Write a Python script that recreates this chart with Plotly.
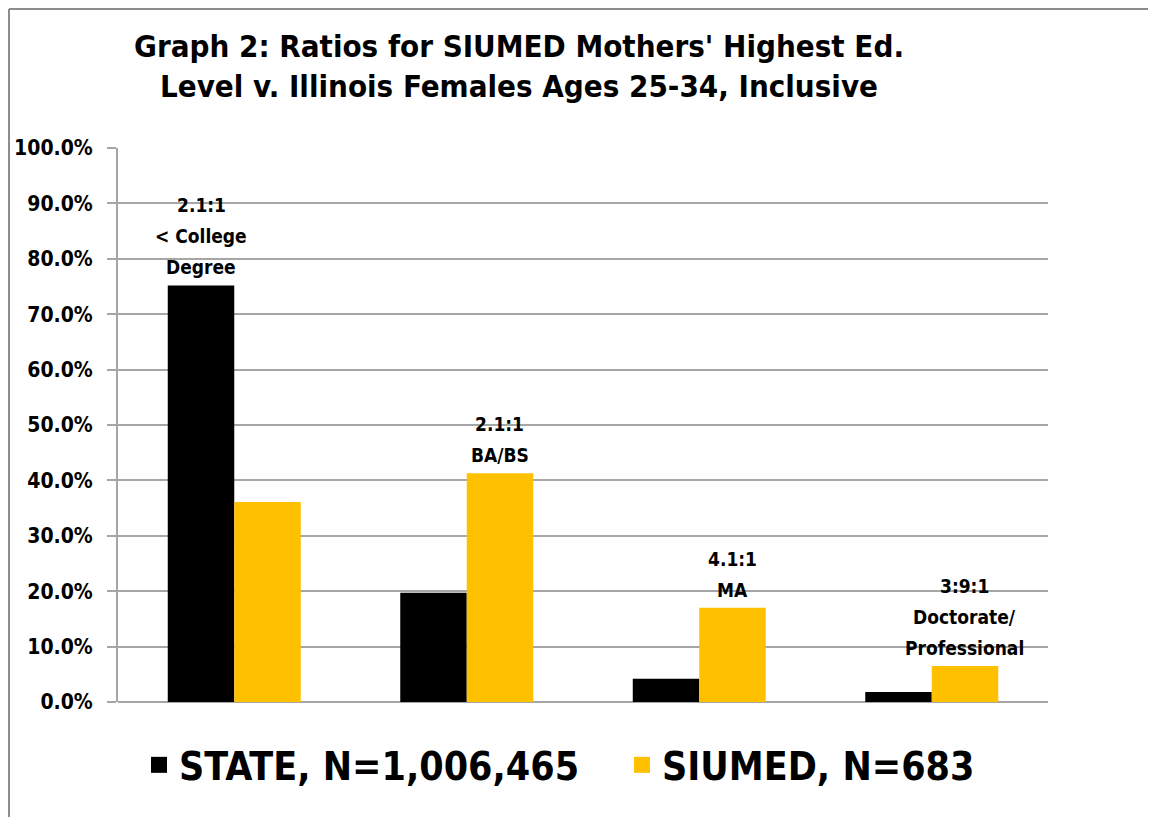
import plotly.graph_objects as go

categories = ["< College Degree", "BA/BS", "MA", "Doctorate/Professional"]
state_values = [0.752, 0.197, 0.042, 0.018]
siumed_values = [0.361, 0.413, 0.170, 0.065]
series_names = ["STATE, N=1,006,465", "SIUMED, N=683"]
series_colors = ["#000000", "#FFC000"]
ratio_labels = [
    ["2.1:1", "&lt; College", "Degree"],
    ["2.1:1", "BA/BS"],
    ["4.1:1", "MA"],
    ["3:9:1", "Doctorate/", "Professional"],
]
y_ticks = [0.0, 0.1, 0.2, 0.3, 0.4, 0.5, 0.6, 0.7, 0.8, 0.9, 1.0]

FONT = "Liberation Sans Narrow, DejaVu Sans Condensed, Arial Narrow, sans-serif"
GRID = "#a6a6a6"
W, H = 1148, 809
L, T, PW, PH = 110, 140, 930, 554
legend_ids = ["legend", "legend2"]
legend_left_px = [139, 622]

fig = go.Figure()
for vals, name, col in zip([state_values, siumed_values], series_names, series_colors):
    fig.add_trace(go.Bar(x=categories, y=vals, name=name, legendgroup=name,
                         showlegend=False, marker=dict(color=col, line=dict(width=0))))
for name, col, lid in zip(series_names, series_colors, legend_ids):
    fig.add_trace(go.Scatter(x=[None], y=[None], mode="markers", name=name, legendgroup=name,
                             legend=lid, marker=dict(symbol="square", size=26, color=col)))

annotations = []
for cat, s, m, lines in zip(categories, state_values, siumed_values, ratio_labels):
    top = max(s, m)
    shift = -33 if s >= m else 33
    for j, line in enumerate(reversed(lines)):
        annotations.append(dict(
            x=cat, y=top, xref="x", yref="y", text="<b>" + line + "</b>",
            showarrow=False, xanchor="center", yanchor="middle",
            xshift=shift, yshift=18 + 31 * j, align="center",
            font=dict(family=FONT, size=19, color="#000000"),
        ))

legend_common = dict(orientation="h", xanchor="left",
                     y=(PH + T - (765 - 8)) / PH, yanchor="middle",
                     font=dict(family=FONT, size=39, color="#000000", weight="bold"),
                     itemwidth=30, bgcolor="rgba(0,0,0,0)")

bx = (1 - L) / PW
fig.update_layout(
    width=W, height=H,
    barmode="group", bargap=0.428, bargroupgap=0,
    plot_bgcolor="white", paper_bgcolor="white",
    margin=dict(l=L, r=W - L - PW, t=T, b=H - T - PH, autoexpand=False),
    title=dict(
        text="<b>Graph 2: Ratios for SIUMED Mothers' Highest Ed.<br>Level v. Illinois Females Ages 25-34, Inclusive</b>",
        x=511 / W, xanchor="center", xref="container",
        y=1 - 49 / H, yanchor="top", yref="container",
        font=dict(family=FONT, size=31, color="#000000"),
    ),
    xaxis=dict(showticklabels=False, showgrid=False, ticks="", automargin=False,
               showline=False, zeroline=False),
    yaxis=dict(range=[0, 1], tickvals=y_ticks, tickformat=".1%", automargin=False,
               showgrid=True, gridcolor=GRID, gridwidth=2,
               showline=True, linecolor=GRID, linewidth=2,
               ticks="outside", ticklen=9, tickcolor=GRID, tickwidth=2,
               ticklabelstandoff=10, zeroline=True, zerolinecolor=GRID, zerolinewidth=2,
               tickfont=dict(family=FONT, size=21, color="#000000", weight="bold")),
    legend=dict(x=(legend_left_px[0] - 8 - L) / PW, **legend_common),
    legend2=dict(x=(legend_left_px[1] - 8 - L) / PW, **legend_common),
    annotations=annotations,
    shapes=[
        dict(type="line", xref="paper", yref="paper", x0=bx, x1=bx,
             y0=(PH + T - 1) / PH, y1=-(H - T - PH + 5) / PH, line=dict(color="#8c8c8c", width=2)),
        dict(type="line", xref="paper", yref="paper", x0=bx, x1=(W + 5 - L) / PW,
             y0=(PH + T - 1) / PH, y1=(PH + T - 1) / PH, line=dict(color="#8c8c8c", width=2)),
    ],
)

fig.write_html("out.html")
